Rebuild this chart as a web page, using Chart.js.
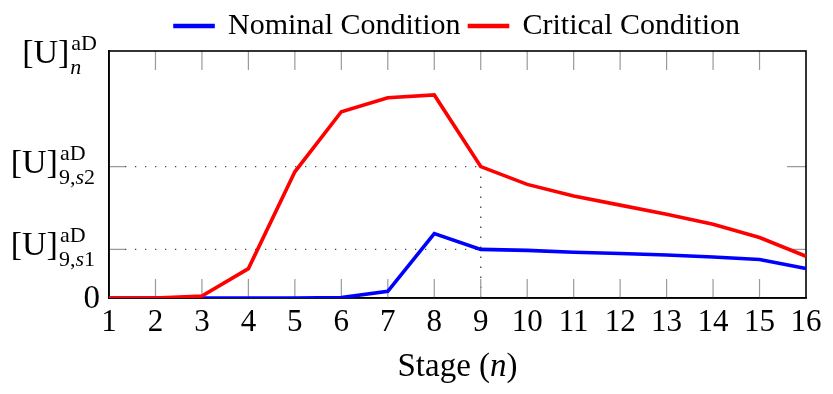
<!DOCTYPE html>
<html>
<head>
<meta charset="utf-8">
<script src="https://cdn.jsdelivr.net/npm/chart.js@4"></script>
<style>
html, body { margin: 0; padding: 0; background: #fff; }
#wrap { width: 833px; height: 394px; }
</style>
</head>
<body>
<div id="wrap"><canvas id="stage__chart-canvas" width="833" height="394"></canvas></div>
<script>
// values, y in % of the axis height
const stages = ['1','2','3','4','5','6','7','8','9','10','11','12','13','14','15','16'];
const nominal = [0, 0, 0, 0, 0, 0.2, 2.7, 26.1, 19.7, 19.3, 18.5, 18.0, 17.4, 16.6, 15.6, 11.9];
const critical = [0, 0, 0.8, 11.9, 51.1, 75.4, 81.1, 82.2, 53.2, 46.0, 41.3, 37.6, 33.9, 29.9, 24.5, 16.9];
const levelS1 = 19.7;
const levelS2 = 53.2;
const yMax = 100;
const guideStage = '9';

const serif = '"Liberation Serif", "Times New Roman", serif';

// y tick labels: [value, main, sup, sub pieces]
const yLabels = [
    [levelS1, '[U]', 'aD', [['9,', false], ['s', true], ['1', false]]],
    [levelS2, '[U]', 'aD', [['9,', false], ['s', true], ['2', false]]],
];

function piecesWidth(ctx, pieces, size) {
    let w = 0;
    pieces.forEach(([t, it]) => {
        ctx.font = (it ? 'italic ' : '') + size + 'px ' + serif;
        w += ctx.measureText(t).width;
    });
    return w;
}

function drawPieces(ctx, pieces, x, y, size) {
    pieces.forEach(([t, it]) => {
        ctx.font = (it ? 'italic ' : '') + size + 'px ' + serif;
        ctx.fillText(t, x, y);
        x += ctx.measureText(t).width;
    });
    return x;
}

// [U]^sup_sub, right edge at rightX
function drawMath(ctx, rightX, base, main, sup, sub) {
    const big = 34, small = 22;
    const wMain = piecesWidth(ctx, [[main, false]], big);
    const wSup = piecesWidth(ctx, [[sup, false]], small);
    const wSub = piecesWidth(ctx, sub, small);
    const x0 = rightX - wMain - 2 - Math.max(wSup, wSub);
    drawPieces(ctx, [[main, false]], x0, base, big);
    drawPieces(ctx, [[sup, false]], x0 + wMain + 2, base - 13, small);
    drawPieces(ctx, sub, x0 + wMain + 1, base + 11, small);
}

const frame = {
    id: 'frame',
    beforeDatasetsDraw(chart) {
        const {ctx, chartArea: a, scales: {x, y}} = chart;
        const gx = x.getPixelForValue(stages.indexOf(guideStage));
        ctx.save();

        // dotted guides
        ctx.strokeStyle = '#444';
        ctx.lineWidth = 1.3;
        ctx.setLineDash([1.3, 8.7]);
        [levelS1, levelS2].forEach(v => {
            const py = y.getPixelForValue(v);
            ctx.beginPath();
            ctx.moveTo(a.left + 16, py);
            ctx.lineTo(gx, py);
            ctx.stroke();
        });
        ctx.beginPath();
        ctx.moveTo(gx, y.getPixelForValue(levelS2) + 10);
        ctx.lineTo(gx, a.bottom);
        ctx.stroke();
        ctx.setLineDash([]);

        // tick marks inside the box
        ctx.strokeStyle = '#9a9a9a';
        ctx.lineWidth = 1.2;
        for (let i = 1; i < stages.length - 1; i++) {
            const px = x.getPixelForValue(i);
            ctx.beginPath();
            ctx.moveTo(px, a.top);
            ctx.lineTo(px, a.top + 19);
            ctx.moveTo(px, a.bottom);
            ctx.lineTo(px, a.bottom - 19);
            ctx.stroke();
        }
        [levelS1, levelS2].forEach(v => {
            const py = y.getPixelForValue(v);
            ctx.beginPath();
            ctx.moveTo(a.left, py);
            ctx.lineTo(a.left + 16, py);
            ctx.moveTo(a.right, py);
            ctx.lineTo(a.right - 19, py);
            ctx.stroke();
        });

        // box
        ctx.strokeStyle = '#000';
        ctx.lineWidth = 1.6;
        ctx.strokeRect(a.left, a.top, a.right - a.left, a.bottom - a.top);
        ctx.restore();
    },
    afterDraw(chart) {
        const {ctx, chartArea: a, scales: {y}} = chart;
        ctx.save();
        ctx.fillStyle = '#000';
        ctx.textBaseline = 'alphabetic';
        ctx.textAlign = 'left';

        // y labels
        yLabels.forEach(([v, main, sup, sub]) => {
            drawMath(ctx, 96, y.getPixelForValue(v) + 6, main, sup, sub);
        });
        ctx.font = '33px ' + serif;
        ctx.textAlign = 'right';
        ctx.fillText('0', 100, y.getPixelForValue(0) + 10);
        ctx.textAlign = 'left';

        // y axis label at the top
        drawMath(ctx, 97, a.top + 12, '[U]', 'aD', [['n', true]]);

        // x axis title
        const title = [['Stage (', false], ['n', true], [')', false]];
        const w = piecesWidth(ctx, title, 33);
        drawPieces(ctx, title, (a.left + a.right) / 2 - w / 2, 376, 33);
        ctx.restore();
    }
};

new Chart(document.getElementById("stage__chart-canvas").getContext("2d"), {
    type: 'line',
    data: {
        labels: stages,
        datasets: [{
            label: 'Critical Condition',
            data: critical,
            borderColor: '#ff0000',
            backgroundColor: '#ff0000',
            borderWidth: 3.6,
            pointRadius: 0,
            tension: 0,
        }, {
            label: 'Nominal Condition',
            data: nominal,
            borderColor: '#0000ff',
            backgroundColor: '#0000ff',
            borderWidth: 3.6,
            pointRadius: 0,
            tension: 0,
        }]
    },
    options: {
        responsive: false,
        animation: false,
        layout: {
            padding: {top: 2, right: 27, left: 0, bottom: 0}
        },
        plugins: {
            tooltip: {enabled: false},
            legend: {
                display: true,
                position: 'top',
                fullSize: false,
                labels: {
                    sort: (a, b) => b.datasetIndex - a.datasetIndex,
                    boxWidth: 38,
                    boxHeight: 1,
                    padding: 9,
                    color: '#000',
                    font: {family: serif, size: 30}
                }
            }
        },
        scales: {
            x: {
                type: 'category',
                offset: false,
                grid: {display: false},
                border: {display: true, color: '#000', width: 1.6},
                ticks: {
                    color: '#000',
                    font: {family: serif, size: 31},
                    padding: -2,
                    maxRotation: 0,
                    autoSkip: false
                },
                afterFit: (scale) => { scale.height = 96; }
            },
            y: {
                min: 0,
                max: yMax,
                grid: {display: false},
                border: {display: true, color: '#000', width: 1.6},
                ticks: {display: false},
                afterFit: (scale) => { scale.width = 109; }
            }
        }
    },
    plugins: [frame]
});
</script>
</body>
</html>
